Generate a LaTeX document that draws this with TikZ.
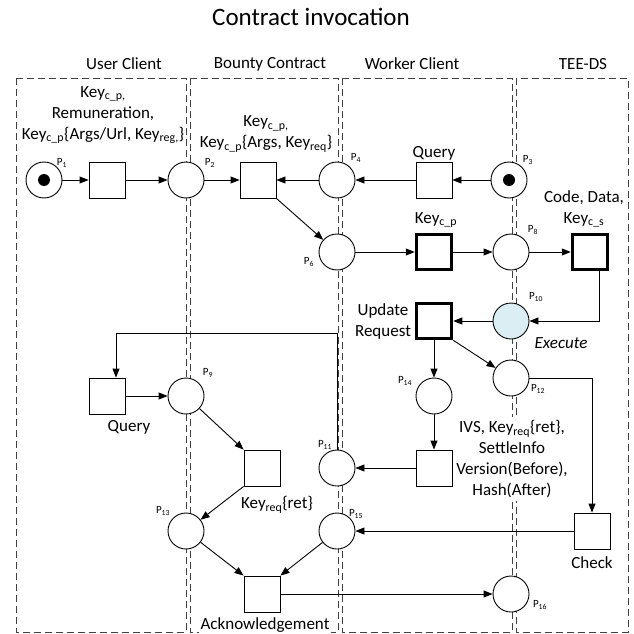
\documentclass[tikz,border=0pt]{standalone}
\usepackage{fontspec}
\setmainfont{Carlito}
\usetikzlibrary{arrows.meta,shapes}
\definecolor{execblue}{HTML}{DAEEF3}
\tikzstyle{place}=[circle,draw,fill=white,line width=0.9pt,minimum size=36pt,inner sep=0pt]
\tikzstyle{marked}=[place,path picture={\fill[black] (path picture bounding box.center) circle (6pt);}]
\tikzstyle{execplace}=[place,fill=execblue]
\tikzstyle{trans}=[rectangle,draw,fill=white,line width=0.9pt,minimum size=36pt,inner sep=0pt]
\tikzstyle{heavy}=[trans,line width=3.5pt,minimum size=35pt]
\tikzstyle{arc} = [draw,line width=0.9pt,-{Triangle[length=9pt,width=7pt]}]
\tikzstyle{lane} = [draw=black!75,line width=0.9pt,dash pattern=on 7pt off 4pt]
\tikzstyle{plabel}=[font=\fontsize{11}{13}\selectfont,inner sep=0pt]
\tikzstyle{txt}=[font=\fontsize{17}{21}\selectfont,align=center,inner sep=1.5pt,fill=white]

\begin{document}
\begin{tikzpicture}[x=1pt,y=-1pt]
    \useasboundingbox (0,0) rectangle (633,634);
    % Title and the four lanes
    \node[txt,font=\fontsize{25}{30}\selectfont] (title) at (311,17) {Contract invocation};
    \foreach \pos/\name/\txt in {{(124,64)/huser/User Client}, {(270,64)/hbounty/Bounty Contract}, {(412,64)/hworker/Worker Client}, {(583,64)/htee/TEE-DS}}
        \node[txt] (\name) at \pos {\txt};
    \path[lane] (16,78) rectangle (186,632);
    \path[lane] (190,78) rectangle (338,632);
    \path[lane] (342,78) rectangle (512,632);
    \path[lane] (516,78) rectangle (628,632);

    % Places
    \foreach \pos/\name/\kind in {{(44,180)/p1/marked}, {(186,180)/p2/place}, {(337,180)/p4/place}, {(509,180)/p3/marked}, {(337,252)/p6/place}, {(511,252)/p8/place}, {(511,321)/p10/execplace}, {(511,378)/p12/place}, {(434,396)/p14/place}, {(186,396)/p9/place}, {(337,468)/p11/place}, {(186,531)/p13/place}, {(337,531)/p15/place}, {(511,594)/p16/place}}
        \node[\kind] (\name) at \pos {};

    % Transitions
    \foreach \pos/\name/\kind in {{(107,180)/t1/trans}, {(258,180)/t2/trans}, {(434,180)/tquery/trans}, {(434,252)/tkey/heavy}, {(590,252)/tcode/heavy}, {(434,321)/tupdate/heavy}, {(107,396)/tuquery/trans}, {(434,468)/tsend/trans}, {(262,468)/tret/trans}, {(592,531)/tcheck/trans}, {(262,594)/tack/trans}}
        \node[\kind] (\name) at \pos {};

    % Place labels
    \foreach \pos/\name/\num in {{(62,163)/l1/1}, {(210,163)/l2/2}, {(356,158)/l4/4}, {(528,160)/l3/3}, {(309,262)/l6/6}, {(533,230)/l8/8}, {(536,297)/l10/10}, {(538,389)/l12/12}, {(405,381)/l14/14}, {(208,373)/l9/9}, {(325,445)/l11/11}, {(163,511)/l13/13}, {(356,514)/l15/15}, {(540,605)/l16/16}}
        \node[plabel] (\name) at \pos {P\textsubscript{\num}};

    % Texts
    \node[txt] (tparams) at (103,115) {Key\textsubscript{c\_p,}\\Remuneration,\\Key\textsubscript{c\_p}\{Args/Url, Key\textsubscript{reg,}\}};
    \node[txt] (tbounty) at (266,134) {Key\textsubscript{c\_p,}\\Key\textsubscript{c\_p}\{Args, Key\textsubscript{req}\}};
    \node[txt] (tquerytxt) at (434,153) {Query};
    \node[txt] (tkeytxt) at (436,220) {Key\textsubscript{c\_p}};
    \node[txt] (tcodetxt) at (584,209) {Code, Data,\\Key\textsubscript{c\_s}};
    \node[txt] (tupdtxt) at (383,321) {Update\\Request};
    \node[txt,font=\fontsize{17}{21}\selectfont\itshape] (texec) at (561,343) {Execute};
    \node[txt] (tuqtxt) at (129,427) {Query};
    \node[txt,inner sep=3pt] (tivs) at (512,459) {IVS, Key\textsubscript{req}\{ret\},\\SettleInfo\\Version(Before),\\Hash(After)};
    \node[txt] (trettxt) at (277,505) {Key\textsubscript{req}\{ret\}};
    \node[txt] (tchecktxt) at (592,563) {Check};
    \node[txt] (tacktxt) at (265,625) {Acknowledgement};

    % Arcs
    \foreach \source/ \dest in {p1/t1, t1/p2, p2/t2, p4/t2, p3/tquery, tquery/p4, t2.south east/p6, p6/tkey, tkey/p8, p8/tcode, p10/tupdate, tupdate/p14, tupdate.south east/p12, p14/tsend, tsend/p11, tuquery/p9, p9/tret.north west, tret.south west/p13, p13/tack.north west, p15/tack.north east, tack/p16, tcheck/p15}
        \path[arc] (\source) -- (\dest);
    \coordinate (bend) at (116,333);
    \path[arc] (p11) -- (p11 |- bend) -- (bend) -- (bend |- tuquery.north);
    \path[arc] ([xshift=9pt]tcode.south) |- (p10);
    \path[arc] (p12) -| (tcheck);
\end{tikzpicture}
\end{document}
